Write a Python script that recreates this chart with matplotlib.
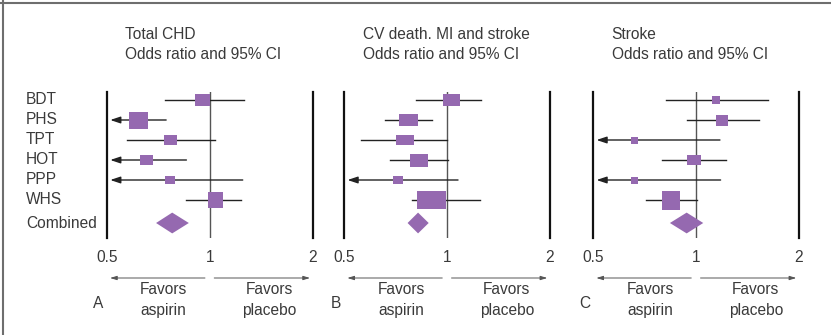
import numpy as np
import matplotlib
matplotlib.use('Agg')
import matplotlib.pyplot as plt
from matplotlib.path import Path
from matplotlib.lines import Line2D
from matplotlib.patches import Polygon

plt.rcParams['font.family'] = ['Liberation Sans', 'DejaVu Sans']

studies = ['BDT', 'PHS', 'TPT', 'HOT', 'PPP', 'WHS']
titles = ['Total CHD', 'CV death. MI and stroke', 'Stroke']
letters = ['A', 'B', 'C']
ticks = [0.5, 1, 2]
tick_labels = ['0.5', '1', '2']

# odds ratio and 95% CI per trial; None = lower bound runs off the scale
chd_or = [0.95, 0.617, 0.768, 0.653, 0.763, 1.039]
chd_lo = [0.739, None, 0.573, None, None, 0.855]
chd_hi = [1.257, 0.746, 1.034, 0.855, 1.249, 1.238]
chd_comb = [0.777, 0.697, 0.869]

cvd_or = [1.027, 0.771, 0.755, 0.829, 0.72, 0.90]
cvd_lo = [0.813, 0.660, 0.561, 0.683, None, 0.79]
cvd_hi = [1.26, 0.904, 1.0, 1.007, 1.077, 1.245]
cvd_comb = [0.823, 0.767, 0.884]

stroke_or = [1.146, 1.19, 0.66, 0.987, 0.66, 0.845]
stroke_lo = [0.815, 0.943, None, 0.794, None, 0.714]
stroke_hi = [1.628, 1.527, 1.175, 1.224, 1.18, 1.005]
stroke_comb = [0.939, 0.839, 1.05]

# box size (weight) of each trial, width / height in pixels
chd_box_w = [15, 19, 13, 13, 10, 15]
chd_box_h = [12, 17, 10, 10, 8, 16]
cvd_box_w = [17, 19, 18, 18, 10, 29]
cvd_box_h = [12, 12, 10, 13, 8, 18]
stroke_box_w = [8, 12, 7, 14, 7, 18]
stroke_box_h = [8, 11, 7, 10, 7, 19]

panels = [
    (chd_or, chd_lo, chd_hi, chd_comb, chd_box_w, chd_box_h),
    (cvd_or, cvd_lo, cvd_hi, cvd_comb, cvd_box_w, cvd_box_h),
    (stroke_or, stroke_lo, stroke_hi, stroke_comb, stroke_box_w, stroke_box_h),
]

purple = '#9569b0'
txt = '#3a3a3a'
fs = 11.2

W, H = 831, 335
fig = plt.figure(figsize=(W / 100, H / 100), dpi=100)

left_px = [106.7, 344, 593]
combined_row = 6.15

for i, (est, lo, hi, comb, bw, bh) in enumerate(panels):
    ax = fig.add_axes([left_px[i] / W, (H - 238) / H, 206 / W, 146 / H])
    ax.set_xscale('log', base=2)
    ax.set_xlim(0.5, 2)
    ax.set_ylim(6.9, -0.4)
    for s in ax.spines.values():
        s.set_visible(False)
    ax.set_yticks([])
    ax.set_xticks(ticks)
    ax.set_xticklabels(tick_labels)
    ax.xaxis.set_minor_locator(plt.NullLocator())
    ax.tick_params(axis='x', length=0, pad=9, labelsize=fs, labelcolor=txt)

    # reference lines
    ax.axvline(0.5, color='#111111', lw=1.6, clip_on=False, zorder=1)
    ax.axvline(2, color='#111111', lw=1.6, clip_on=False, zorder=1)
    ax.axvline(1, color='#555555', lw=1.0, zorder=1)

    for r in range(len(studies)):
        if lo[r] is None:
            ax.annotate('', xy=(0.512, r), xytext=(hi[r], r),
                        arrowprops=dict(arrowstyle='-|>,head_length=0.6,head_width=0.2',
                                        color='#222222', lw=1.0, mutation_scale=10,
                                        shrinkA=0, shrinkB=0), zorder=2)
        else:
            ax.plot([lo[r], hi[r]], [r, r], color='#222222', lw=1.0, zorder=2)
        w, h = bw[r] / 2, bh[r] / 2
        box = Path([(-w, -h), (w, -h), (w, h), (-w, h), (-w, -h)])
        ax.plot(est[r], r, marker=box, markersize=max(bw[r], bh[r]) * 0.72,
                color=purple, markeredgewidth=0, linestyle='none', zorder=3)

    c, clo, chi = comb
    dh = 0.52
    ax.add_patch(Polygon([(clo, combined_row), (c, combined_row - dh),
                          (chi, combined_row), (c, combined_row + dh)],
                         closed=True, facecolor=purple, edgecolor='none', zorder=3))

    yt = ax.get_yaxis_transform()
    ax.text(0.09, -3.25, titles[i], transform=yt, ha='left', va='center',
            fontsize=fs, color=txt)
    ax.text(0.09, -2.25, 'Odds ratio and 95% CI', transform=yt, ha='left',
            va='center', fontsize=fs, color=txt)

    # favors arrows and labels
    ax.annotate('', xy=(0.016, 8.9), xytext=(0.477, 8.9), xycoords=yt, textcoords=yt,
                arrowprops=dict(arrowstyle='-|>,head_length=0.5,head_width=0.15',
                                color='#555555', lw=0.7, mutation_scale=8,
                                shrinkA=0, shrinkB=0), annotation_clip=False)
    ax.annotate('', xy=(0.987, 8.9), xytext=(0.522, 8.9), xycoords=yt, textcoords=yt,
                arrowprops=dict(arrowstyle='-|>,head_length=0.5,head_width=0.15',
                                color='#555555', lw=0.7, mutation_scale=8,
                                shrinkA=0, shrinkB=0), annotation_clip=False)
    for xa, words in [(0.277, ['Favors', 'aspirin']), (0.79, ['Favors', 'placebo'])]:
        ax.text(xa, 9.5, words[0], transform=yt, ha='center', va='center',
                fontsize=fs, color=txt)
        ax.text(xa, 10.5, words[1], transform=yt, ha='center', va='center',
                fontsize=fs, color=txt)
    ax.text(-0.04, 10.2, letters[i], transform=yt, ha='center', va='center',
            fontsize=fs, color=txt)

    if i == 0:
        for r, name in enumerate(studies):
            ax.text(-0.392, r, name, transform=yt, ha='left', va='center',
                    fontsize=fs, color=txt)
        ax.text(-0.392, combined_row, 'Combined', transform=yt, ha='left',
                va='center', fontsize=fs, color=txt)

# frame on top and left edge
fig.add_artist(Line2D([0, 1], [1 - 2.5 / H, 1 - 2.5 / H], transform=fig.transFigure,
                      color='#6e6e6e', lw=1.5))
fig.add_artist(Line2D([3.5 / W, 3.5 / W], [0, 1], transform=fig.transFigure,
                      color='#6e6e6e', lw=1.5))

fig.savefig('out.png', dpi=100)
